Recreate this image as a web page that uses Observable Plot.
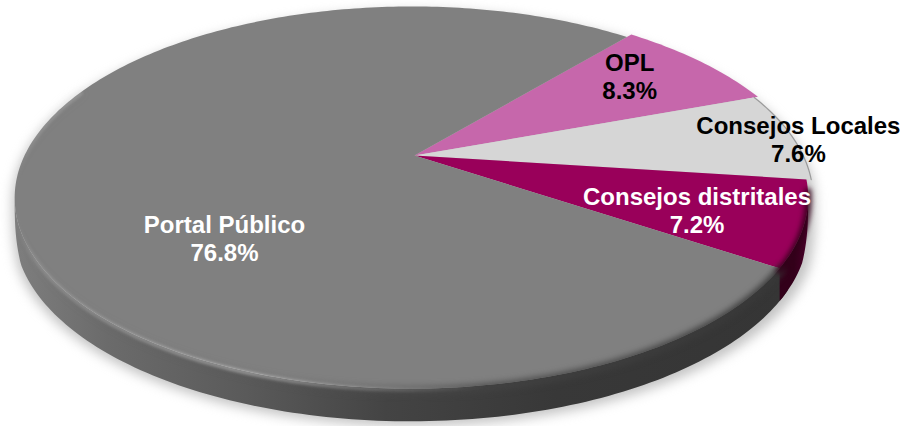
<!DOCTYPE html>
<html><head><meta charset="utf-8">
<script src="https://cdn.jsdelivr.net/npm/d3@7"></script>
<script src="https://cdn.jsdelivr.net/npm/@observablehq/plot@0.6"></script>
<style>html,body{margin:0;padding:0;background:#fff}svg{display:block}</style>
</head><body><div id="chart"></div>
<script>
const names = ["OPL","Consejos Locales","Consejos distritales","Portal Público"];
const values = [8.3,7.6,7.2,76.8];
const colors = ["#c667ab","#d6d6d6","#99005a","#808080"];
const labelColors = ["#000","#000","#fff","#fff"];
const labelX = [0.556,0.992,0.730,-0.491];
const labelY = [0.4235,0.077,-0.3135,-0.4675];
const sliceReach = [1.024,1.012,1,1];

const startAngle = 40.1, perspY = 0.22, perspX = 0.0076, depth = 0.18;
const total = d3.sum(values);
const toRad = a => a*Math.PI/180;
// disc point (clockwise from the far side) projected with the pie's perspective
function disc(a, drop=0, r=1){
  const X=r*Math.sin(toRad(a)), Y=r*Math.cos(toRad(a)), w=1+perspY*Y+perspX*X;
  return {x:X/w, y:Y/w-drop};
}
const arc=(a0,a1,drop=0,r=1)=>{
  const n=Math.ceil(Math.abs(a1-a0));
  return d3.range(n+1).map(i=>disc(a0+(a1-a0)*i/n,drop,r));
};
// the side wall vanishes at the disc's silhouette points and is full height in front
function wallDrop(a){
  const c=Math.max(0,-Math.cos(toRad(a))-perspY)/(1-perspY);
  return depth*Math.min(1,Math.sqrt(c)*2.2);
}
const wall=(a0,a1)=>{
  const n=Math.ceil(Math.abs(a1-a0));
  return d3.range(n+1).map(i=>{const a=a0+(a1-a0)*i/n;return disc(a,wallDrop(a))});
};

let acc=startAngle;
const slices=names.map((name,i)=>{const a0=acc;acc+=values[i]/total*360;return {name,a0,a1:acc,i}});
const facePts=slices.flatMap(s=>[{x:0,y:0,name:s.name},...arc(s.a0,s.a1,0,sliceReach[s.i]).map(p=>({...p,name:s.name})),{x:0,y:0,name:s.name}]);
const portal=slices[3], dist=slices[2], loc=slices[1];
const shadowPts=wall(90,450).map(p=>({x:p.x*1.012+0.006,y:p.y-0.025}));
const sideGray=[...arc(portal.a0-3,portal.a1,0),...wall(portal.a1,portal.a0-3)];
const sideMag=[...arc(dist.a0,dist.a1,0),...wall(dist.a1,dist.a0)];
const rimHi=arc(portal.a0,292,0.006);
const rimSoft=arc(portal.a0,292,0.012);
const rimMag=arc(dist.a0+3,dist.a1,0.012);
const rimBack=arc(loc.a0,loc.a1,0,sliceReach[1]);

const labels=names.map((name,i)=>({text:`${name}\n${values[i].toFixed(1)}%`,x:labelX[i],y:labelY[i],fill:labelColors[i]}));

function defs(){
  const d=d3.create("svg:defs");
  const grad=(id,stops)=>{const g=d.append("linearGradient").attr("id",id);
    stops.forEach(([o,c,op=1])=>g.append("stop").attr("offset",o).attr("stop-color",c).attr("stop-opacity",op));};
  grad("sideGrad",[[0,"#7e7e7e"],[.12,"#6b6b6b"],[.3,"#5a5a5a"],[.48,"#444"],[.7,"#383838"],[1,"#353535"]]);
  grad("magGrad",[[0,"#33001a"],[.5,"#33001a"],[1,"#4a002a"]]);
  grad("hiGrad",[[0,"#fff",0],[.03,"#fff",.14],[.3,"#fff",.36],[.5,"#fff",.15],[.62,"#fff",0],[1,"#fff",0]]);
  grad("softGrad",[[0,"#555",0],[.35,"#555",.2],[.6,"#444",.8],[1,"#383838",1]]);
  return d.node();
}

const chart=Plot.plot({
  width:904,height:426,margin:0,
  x:{domain:[-1,1],range:[27,801],axis:null},
  y:{domain:[-1,1],range:[336.8,-26.8],axis:null},
  color:{domain:names,range:colors},
  marks:[
    defs,
    Plot.line(shadowPts,{x:"x",y:"y",fill:"#b4b4b4",stroke:"none",imageFilter:"blur(6px)",fillOpacity:.8}),
    Plot.line(sideGray,{x:"x",y:"y",fill:"url(#sideGrad)",stroke:"none"}),
    Plot.line(sideMag,{x:"x",y:"y",fill:"url(#magGrad)",stroke:"none"}),
    Plot.line(facePts,{x:"x",y:"y",z:"name",fill:"name",stroke:"none"}),
    Plot.line(rimBack,{x:"x",y:"y",stroke:"#8a8a8a",strokeWidth:1.2,strokeOpacity:.8}),
    Plot.line(rimSoft,{x:"x",y:"y",stroke:"url(#softGrad)",strokeWidth:8,imageFilter:"blur(3px)"}),
    Plot.line(rimMag,{x:"x",y:"y",stroke:"#33001a",strokeOpacity:.85,strokeWidth:7,imageFilter:"blur(2.5px)"}),
    Plot.line(rimHi,{x:"x",y:"y",stroke:"url(#hiGrad)",strokeWidth:4,imageFilter:"blur(1.5px)"}),
    Plot.text(labels,{x:"x",y:"y",dy:-2,text:"text",fill:"fill",fontFamily:"Liberation Sans, Arial, sans-serif",fontWeight:"bold",fontSize:24,lineHeight:1.167})
  ]
});
document.getElementById("chart").append(chart);
</script></body></html>
